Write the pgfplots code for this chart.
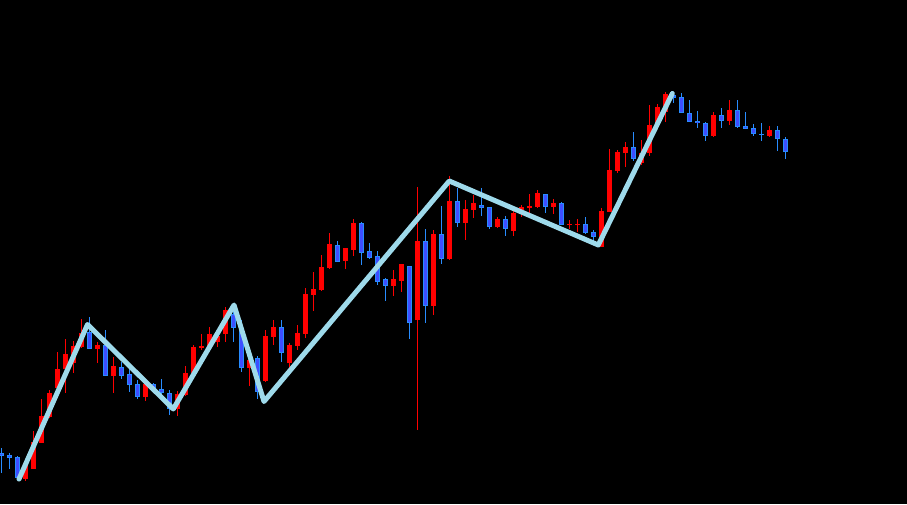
\documentclass[border=0pt]{standalone}
\usepackage{pgfplots}
\usepackage{pgfplotstable}
\pgfplotsset{compat=1.18}

\definecolor{upred}{RGB}{255,0,0}
\definecolor{dnfill}{RGB}{62,78,255}
\definecolor{dnedge}{RGB}{40,140,255}
\definecolor{zzline}{RGB}{158,218,235}

% candles in screen rows (y grows downwards): x, body top/bottom, wick top/bottom
\pgfplotstableread{
x     bt  bb  wt  wb
25.3  463 479 460 481
33.3  442 469 431 469
41.3  416 443 399 443
49.3  393 417 390 418
57.3  369 388 352 390
65.3  354 369 339 393
73.3  346 363 341 373
81.3  333 347 319 348
97.3  345 349 342 363
113.3 366 376 357 393
145.3 384 397 383 401
177.3 394 409 391 416
185.3 373 395 366 396
193.3 347 373 345 375
201.3 346 348 334 350
209.3 334 347 327 348
217.3 336 342 333 347
225.3 310 334 307 342
249.3 360 368 347 386
265.3 336 381 330 382
273.3 327 337 320 345
289.3 345 363 343 370
297.3 333 346 325 350
305.3 294 334 288 338
313.3 289 295 272 311
321.3 267 290 255 291
329.3 244 268 233 269
345.3 248 261 248 269
353.3 223 250 219 256
393.3 279 286 270 296
401.3 264 281 264 292
417.3 241 320 187 430
433.3 234 306 230 315
449.3 201 259 176 260
465.3 209 223 200 240
473.3 203 210 195 218
497.3 219 227 217 228
513.3 213 231 209 236
521.3 207 210 205 217
529.3 206 208 194 213
537.3 193 207 190 208
553.3 203 207 199 214
569.3 224 225 220 229
577.3 224 225 219 232
601.3 211 247 208 247
609.3 170 212 149 212
617.3 152 171 150 173
625.3 147 153 142 167
641.3 153 163 140 165
649.3 125 153 105 156
657.3 107 125 104 126
665.3 94  112 92  122
713.3 115 136 112 137
729.3 110 121 100 125
769.3 130 136 126 137
}\upcandles

\pgfplotstableread{
x     bt  bb  wt  wb
1.7   453 456 448 473
9.3   455 458 453 469
17.3  457 478 456 479
89.3  332 349 317 349
105.3 345 376 330 376
121.3 367 376 362 379
129.3 374 385 364 392
137.3 384 397 380 399
153.3 384 390 383 392
161.3 389 393 379 397
169.3 393 409 390 415
233.3 314 328 307 342
241.3 329 368 320 372
257.3 358 392 356 399
281.3 327 353 320 362
337.3 245 262 241 262
361.3 223 253 222 265
369.3 251 258 243 259
377.3 256 282 251 285
385.3 279 286 278 301
409.3 266 323 266 339
425.3 241 306 229 323
441.3 234 259 206 264
457.3 201 223 188 227
481.3 205 208 188 216
489.3 207 227 207 229
505.3 219 229 216 236
545.3 194 207 194 213
561.3 203 225 202 225
585.3 224 233 217 234
593.3 232 237 230 241
633.3 147 159 132 161
673.3 95  98  93  103
681.3 97  113 93  113
689.3 113 122 100 122
697.3 121 123 111 128
705.3 123 136 122 141
721.3 115 121 108 128
737.3 110 127 100 128
745.3 126 129 112 129
753.3 128 134 124 136
761.3 134 135 123 141
777.3 130 139 126 151
785.3 139 152 137 159
}\downcandles

% zigzag turning points
\pgfplotstableread{
x     y
19.0  479
87.5  324.5
173.3 409
234.0 305
264.0 401.5
449.3 181
598.3 245
672.3 93.5
}\zigzag

\begin{document}
\begin{tikzpicture}
\begin{axis}[
    width=907pt, height=504pt,
    scale only axis,
    xmin=0, xmax=907, ymin=0, ymax=504,
    y dir=reverse,
    axis lines=none,
    axis background/.style={fill=black},
    clip=true,
]
% wicks
\addplot[draw=none, mark=none,
    error bars/.cd, y dir=plus, y explicit, error mark=none,
    error bar style={line width=1pt, draw=upred, line cap=butt}]
    table[x=x, y=wt, y error plus expr=\thisrow{wb}-\thisrow{wt}] {\upcandles};
\addplot[draw=none, mark=none,
    error bars/.cd, y dir=plus, y explicit, error mark=none,
    error bar style={line width=1pt, draw=dnedge, line cap=butt}]
    table[x=x, y=wt, y error plus expr=\thisrow{wb}-\thisrow{wt}] {\downcandles};
% bodies
\addplot[draw=none, mark=none,
    error bars/.cd, y dir=plus, y explicit, error mark=none,
    error bar style={line width=5pt, draw=upred, line cap=butt}]
    table[x=x, y=bt, y error plus expr=\thisrow{bb}-\thisrow{bt}] {\upcandles};
\addplot[draw=none, mark=none,
    error bars/.cd, y dir=plus, y explicit, error mark=none,
    error bar style={line width=5.5pt, draw=dnedge, line cap=butt}]
    table[x=x, y=bt, y error plus expr=\thisrow{bb}-\thisrow{bt}] {\downcandles};
\addplot[draw=none, mark=none,
    error bars/.cd, y dir=plus, y explicit, error mark=none,
    error bar style={line width=3.5pt, draw=dnfill, line cap=butt}]
    table[x=x, y expr=\thisrow{bt}+0.8,
          y error plus expr={max(\thisrow{bb}-\thisrow{bt}-1.6,0)}] {\downcandles};
% zigzag
\addplot[zzline, line width=5pt, line join=round, line cap=round, mark=none]
    table[x=x, y=y] {\zigzag};
\end{axis}
\end{tikzpicture}
\end{document}
